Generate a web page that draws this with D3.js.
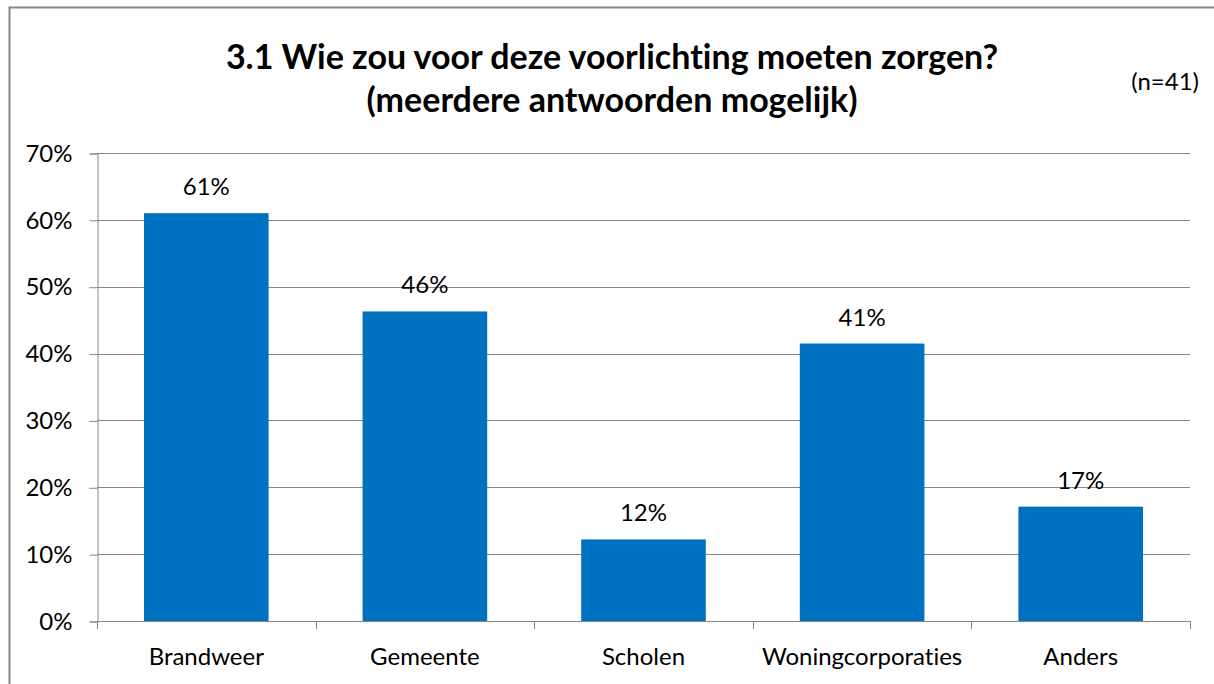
<!DOCTYPE html>
<html>
<head>
<meta charset="utf-8">
<script src="https://cdn.jsdelivr.net/npm/d3@7"></script>
<style>
  body { margin: 0; background: #fff; }
  text { font-family: Lato, "Open Sans", sans-serif; fill: #000; font-variant-ligatures: none; }
</style>
</head>
<body>
<svg></svg>
<script>
// data (n=41)
var categories = ["Brandweer", "Gemeente", "Scholen", "Woningcorporaties", "Anders"]
var values = [0.61, 0.463, 0.122, 0.415, 0.171]
var valueLabels = ["61%", "46%", "12%", "41%", "17%"]
var yTicks = [0, 0.1, 0.2, 0.3, 0.4, 0.5, 0.6, 0.7]

var W = 1214, H = 684
var svg = d3.select("svg")
    .attr("width", W)
    .attr("height", H)

// chart border (right/bottom run off the picture)
svg.append("rect")
    .attr("x", 9.5).attr("y", 7.5)
    .attr("width", W + 20).attr("height", H + 20)
    .attr("fill", "none")
    .attr("stroke", "#868686")
    .attr("stroke-width", 2)

var plotLeft = 97, plotRight = 1190, plotTop = 153, plotBottom = 621

var scY = d3.scaleLinear()
    .domain([0, 0.7])
    .range([plotBottom, plotTop])

var scX = d3.scaleBand()
    .domain(categories)
    .range([plotLeft, plotRight])
    .paddingInner(0.43)
    .paddingOuter(0.215)

// category boundaries for the x tick marks
var scEdge = d3.scaleLinear()
    .domain([0, categories.length])
    .range([plotLeft, plotRight])

// gridlines
svg.append("g").selectAll("line")
    .data(yTicks.slice(1))
    .enter().append("line")
    .attr("x1", plotLeft).attr("x2", plotRight)
    .attr("y1", d => Math.round(scY(d)) + 0.5)
    .attr("y2", d => Math.round(scY(d)) + 0.5)
    .attr("stroke", "#868686")
    .attr("stroke-width", 1)

// bars
svg.append("g").selectAll("rect")
    .data(values)
    .enter().append("rect")
    .attr("x", (d, i) => scX(categories[i]))
    .attr("y", d => scY(d))
    .attr("width", scX.bandwidth())
    .attr("height", d => plotBottom - scY(d))
    .attr("fill", "#0070C0")

// y axis
var yAxis = d3.axisLeft(scY)
    .tickValues(yTicks)
    .tickFormat(d3.format(".0%"))
    .tickSize(8)
    .tickPadding(17)

var yAxisGroup = svg.append("g")
    .attr("transform", `translate(${plotLeft + 0.5}, 0.5)`)
    .call(yAxis)
yAxisGroup.select(".domain").attr("stroke", "#868686")
yAxisGroup.selectAll(".tick line").attr("stroke", "#868686")
yAxisGroup.selectAll(".tick text")
    .attr("font-size", 24)
    .attr("font-family", "Lato, 'Open Sans', sans-serif")
    .attr("fill", "#000")

// x axis line + ticks
svg.append("line")
    .attr("x1", plotLeft).attr("x2", plotRight)
    .attr("y1", plotBottom + 0.5).attr("y2", plotBottom + 0.5)
    .attr("stroke", "#868686")
svg.append("g").selectAll("line")
    .data(d3.range(categories.length + 1))
    .enter().append("line")
    .attr("x1", d => Math.round(scEdge(d)) + 0.5)
    .attr("x2", d => Math.round(scEdge(d)) + 0.5)
    .attr("y1", plotBottom).attr("y2", plotBottom + 8)
    .attr("stroke", "#868686")

// category labels
svg.append("g").selectAll("text")
    .data(categories)
    .enter().append("text")
    .attr("x", d => scX(d) + scX.bandwidth() / 2)
    .attr("y", plotBottom + 44)
    .attr("text-anchor", "middle")
    .attr("font-size", 24)
    .text(d => d)

// value labels
svg.append("g").selectAll("text")
    .data(values)
    .enter().append("text")
    .attr("x", (d, i) => scX(categories[i]) + scX.bandwidth() / 2)
    .attr("y", d => scY(d) - 18)
    .attr("text-anchor", "middle")
    .attr("font-size", 24)
    .text((d, i) => valueLabels[i])

// title
var title = svg.append("text")
    .attr("text-anchor", "middle")
    .attr("font-size", 34)
    .attr("font-weight", "bold")
title.append("tspan").attr("x", 612).attr("y", 69).text("3.1 Wie zou voor deze voorlichting moeten zorgen?")
title.append("tspan").attr("x", 612).attr("y", 112).text("(meerdere antwoorden mogelijk)")

svg.append("text")
    .attr("x", 1199).attr("y", 90)
    .attr("text-anchor", "end")
    .attr("font-size", 24)
    .text("(n=41)")
</script>
</body>
</html>
